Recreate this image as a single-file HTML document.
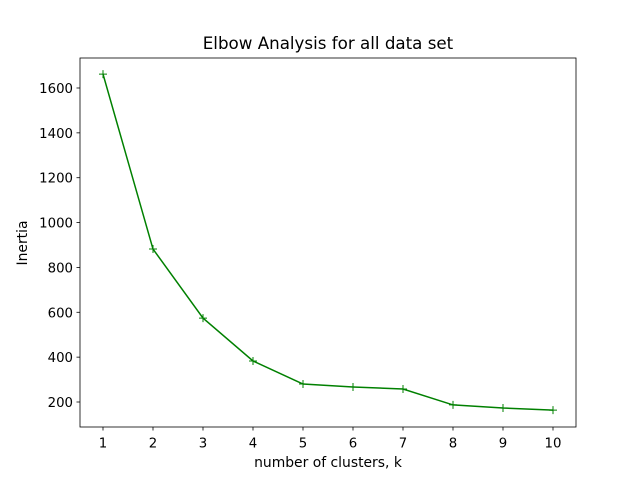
<!DOCTYPE html>
<html><head><meta charset="utf-8"><style>
body{margin:0;background:#fff;}
svg text{font-family:"DejaVu Sans","Liberation Sans",sans-serif;fill:#000;}
</style></head><body>
<svg id="chart" width="640" height="480" xmlns="http://www.w3.org/2000/svg">
<rect width="640" height="480" fill="#fff"/>
<text x="328" y="49" font-size="16.7" text-anchor="middle">Elbow Analysis for all data set</text>
<g id="xt"></g>
<g id="yt"></g>
<g id="series"></g>
<rect x="80" y="58" width="496" height="369" fill="none" stroke="#000" stroke-width="0.8"/>
<text x="328" y="467" font-size="13.9" text-anchor="middle">number of clusters, k</text>
<text x="27" y="243" font-size="13.9" text-anchor="middle" transform="rotate(-90 27 243)">Inertia</text>
</svg>
<script>
const ks=[1,2,3,4,5,6,7,8,9,10];
const inertia=[1662,882,574,383,280,267,258,187,173,164];
const yTicks=[200,400,600,800,1000,1200,1400,1600];
const NS="http://www.w3.org/2000/svg";
function x(v){return 103+(v-1)*50;}
function y(v){return 402-(v-200)*0.22429;}
function mk(t,a,p){const e=document.createElementNS(NS,t);for(const k in a)e.setAttribute(k,a[k]);p.appendChild(e);return e;}
const xt=document.getElementById('xt'),yt=document.getElementById('yt'),s=document.getElementById('series');
ks.forEach(k=>{
 const l=mk('line',{x1:x(k),x2:x(k),y1:427,y2:430.5,stroke:'#000','stroke-width':0.8},xt);
 
 
 const t=mk('text',{x:x(k),y:447.5,'font-size':13.3,'text-anchor':'middle'},xt);t.textContent=k;
 
 
});
yTicks.forEach(v=>{
 const l=mk('line',{x1:76.5,x2:80,y1:y(v),y2:y(v),stroke:'#000','stroke-width':0.8},yt);
 
 
 const t=mk('text',{x:73,y:y(v)+5,'font-size':13.3,'text-anchor':'end'},yt);t.textContent=v;
 
 
});
const pl=mk('polyline',{points:ks.map((k,i)=>x(k)+','+y(inertia[i])).join(' '),fill:'none',stroke:'#008000','stroke-width':1.5},s);


ks.forEach((k,i)=>{
 const px=x(k),py=y(inertia[i]);
 const m=mk('path',{d:`M${px-4},${py}H${px+4}M${px},${py-4}V${py+4}`,stroke:'#008000','stroke-width':1},s);
 
 
});
</script>
</body></html>
